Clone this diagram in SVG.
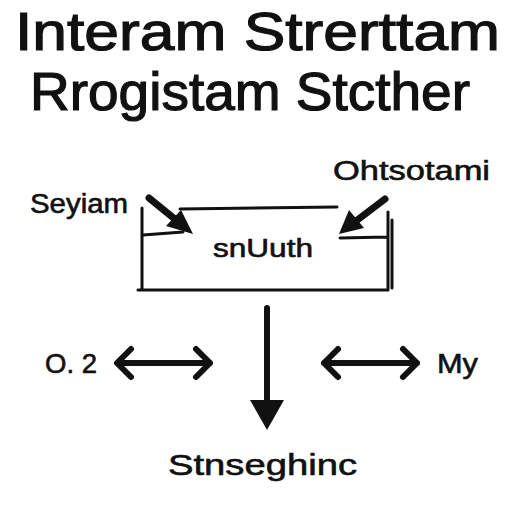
<svg xmlns="http://www.w3.org/2000/svg" width="512" height="512" viewBox="0 0 512 512">
<style>
text{font-family:"Liberation Sans",Arial,sans-serif;fill:#111;stroke:#111;stroke-width:0.6}
.title{font-size:54px;stroke-width:1.2}
.lbl{font-size:27px}
.sk{fill:none;stroke:#111;stroke-width:3;stroke-linecap:round}
.ar{fill:none;stroke:#111;stroke-width:6;stroke-linecap:round;stroke-linejoin:round}
.head{fill:#111}
</style>
<rect width="512" height="512" fill="#fff"/>
<g id="title">
<text class="title" x="15" y="50" textLength="485" lengthAdjust="spacingAndGlyphs">Interam Strerttam</text>
<text class="title" x="30" y="110" textLength="440" lengthAdjust="spacingAndGlyphs">Rrogistam Stcther</text>
</g>
<g id="box">
<path class="sk" d="M180,209 L337,207 M142,208 L142,290 M143,235 L183,232 M138,290 L388,290 M388,212 L388,290 M392,220 L392,288 M340,238 L387,237"/>
<text class="lbl" x="263" y="257" text-anchor="middle" textLength="100" lengthAdjust="spacingAndGlyphs" style="font-size:25px">snUuth</text>
</g>
<g id="seyiam"><text class="lbl" x="30" y="213" textLength="98" lengthAdjust="spacingAndGlyphs">Seyiam</text></g>
<g id="ohtsotami"><text class="lbl" x="333" y="180" textLength="157" lengthAdjust="spacingAndGlyphs">Ohtsotami</text></g>
<g id="o2"><text class="lbl" x="45" y="373" textLength="52" lengthAdjust="spacingAndGlyphs">O. 2</text></g>
<g id="my"><text class="lbl" x="437" y="373" textLength="41" lengthAdjust="spacingAndGlyphs">My</text></g>
<g id="bottom"><text class="lbl" x="168" y="475" textLength="189" lengthAdjust="spacingAndGlyphs" style="font-size:30px">Stnseghinc</text></g>
<g id="connectors">
<line class="ar" x1="149" y1="198" x2="176" y2="220" style="stroke-width:7"/>
<polygon class="head" points="193,234 166,226 181,210"/>
<line class="ar" x1="385" y1="199" x2="356" y2="221" style="stroke-width:7"/>
<polygon class="head" points="339,234 349,210 364,228"/>
<line class="ar" x1="267" y1="308" x2="267" y2="405"/>
<polygon class="head" points="267,430 250,400 284,400"/>
<path class="ar" d="M120,363 L210,363 M131,349 L117,363 L131,377 M196,349 L210,363 L196,377"/>
<path class="ar" d="M324,363 L417,363 M338,349 L324,363 L338,377 M403,349 L417,363 L403,377"/>
</g>
</svg>
